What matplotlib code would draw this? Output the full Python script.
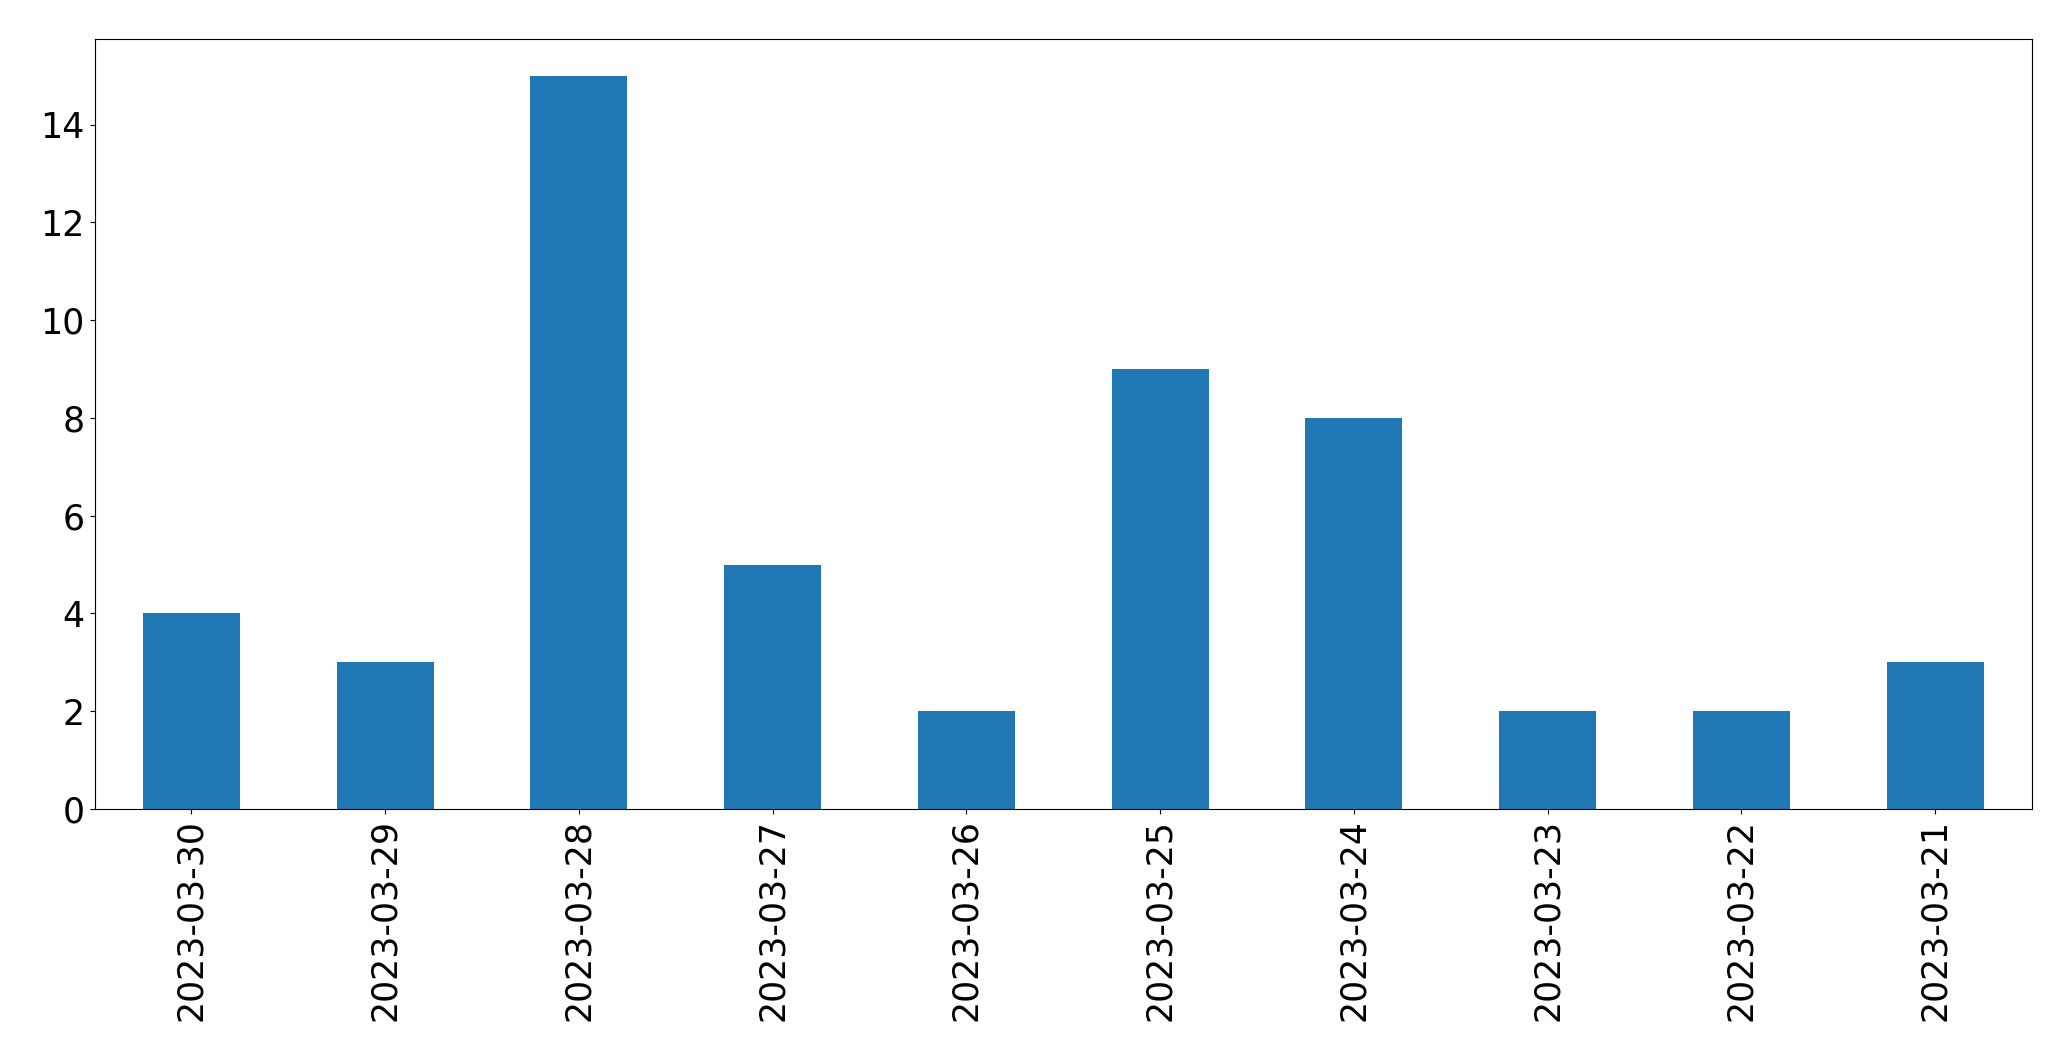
import matplotlib
matplotlib.use("Agg")
import matplotlib.pyplot as plt
import pandas as pd

dates = ["2023-03-30", "2023-03-29", "2023-03-28", "2023-03-27", "2023-03-26",
         "2023-03-25", "2023-03-24", "2023-03-23", "2023-03-22", "2023-03-21"]
counts = [4, 3, 15, 5, 2, 9, 8, 2, 2, 3]

s = pd.Series(counts, index=dates)

fig = plt.figure(figsize=(20.71, 10.61), dpi=100)
ax = fig.add_axes([94.5 / 2071, 1 - 809 / 1061, (2032 - 94.5) / 2071, (809 - 39) / 1061])
s.plot(kind="bar", ax=ax, color="#1f77b4", fontsize=25)
ax.tick_params(axis="x", labelrotation=90)

fig.savefig("out.png", dpi=100)
